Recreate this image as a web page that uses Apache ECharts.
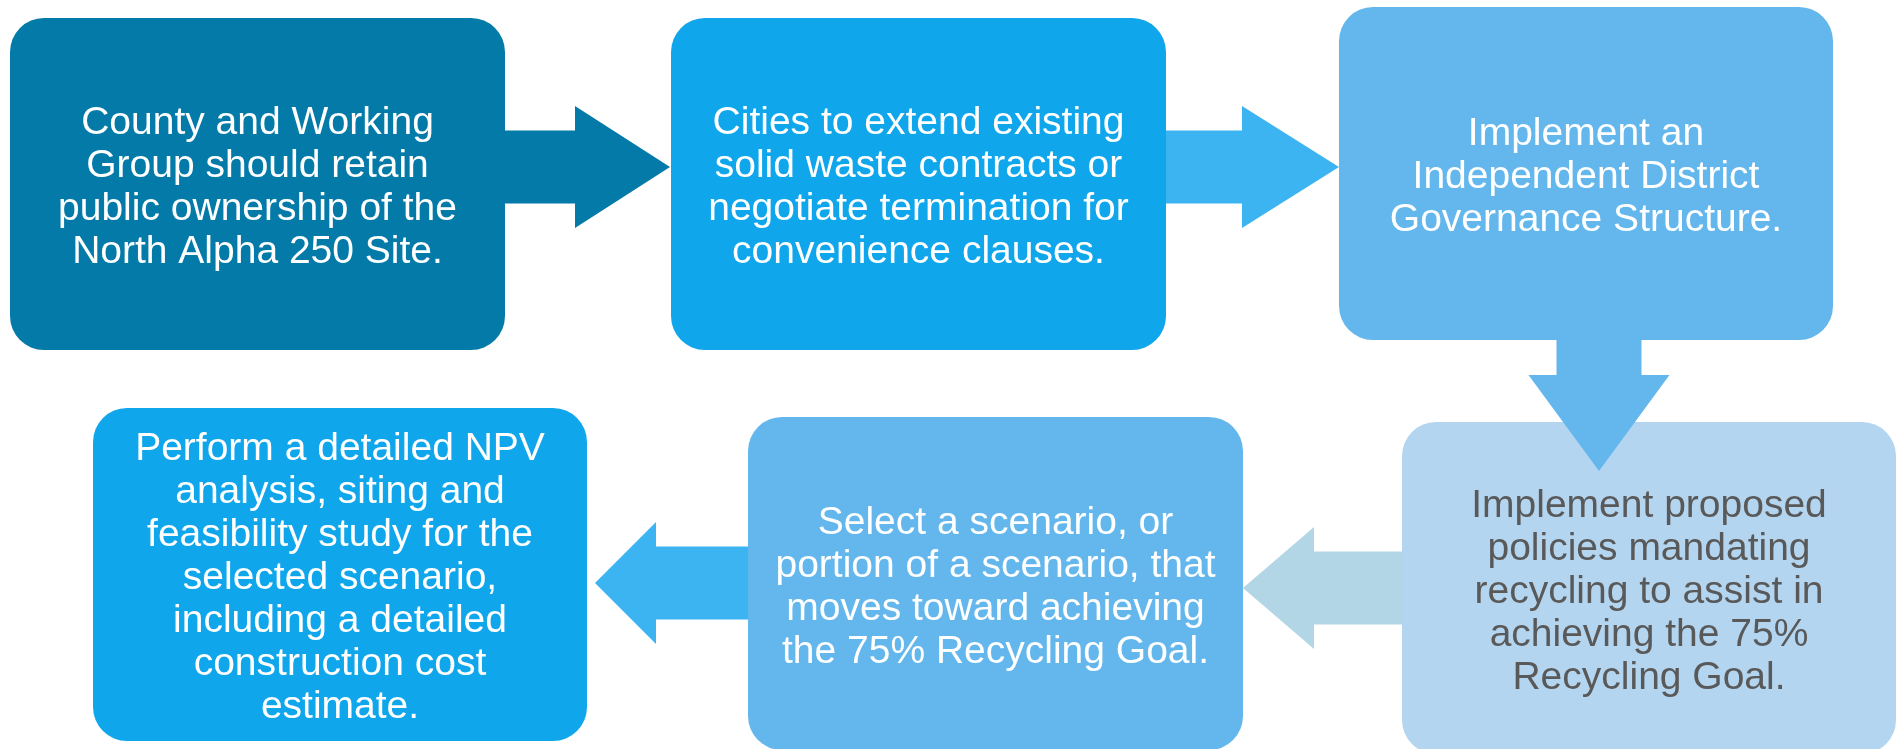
<!DOCTYPE html>
<html>
<head>
    <meta charset="utf-8">
    <script src="https://cdn.jsdelivr.net/npm/echarts@6/dist/echarts.min.js"></script>
    <style>
        html, body { margin: 0; padding: 0; background: #ffffff; }
        #flow { width: 1904px; height: 749px; }
    </style>
</head>
<body>
    <div id="flow"></div>
    <script>
        // step texts, in flow order
        const steps = [
            "County and Working\nGroup should retain\npublic ownership of the\nNorth Alpha 250 Site.",
            "Cities to extend existing\nsolid waste contracts or\nnegotiate termination for\nconvenience clauses.",
            "Implement an\nIndependent District\nGovernance Structure.",
            "Implement proposed\npolicies mandating\nrecycling to assist in\nachieving the 75%\nRecycling Goal.",
            "Select a scenario, or\nportion of a scenario, that\nmoves toward achieving\nthe 75% Recycling Goal.",
            "Perform a detailed NPV\nanalysis, siting and\nfeasibility study for the\nselected scenario,\nincluding a detailed\nconstruction cost\nestimate."
        ];
        // step n -> step n+1
        const links = [[0, 1], [1, 2], [2, 3], [3, 4], [4, 5]];

        // layout (axis units = page pixels): left, top, right, bottom
        const boxLayout = [
            [10, 18, 505, 350],
            [671, 18, 1166, 350],
            [1339, 7, 1833, 340],
            [1402, 422, 1896, 754],
            [748, 417, 1243, 750],
            [93, 408, 587, 741]
        ];
        const boxColors = ['#037AA8', '#10A6EC', '#64B7EC', '#B4D5F0', '#64B7EC', '#10A6EC'];
        const textColors = ['#ffffff', '#ffffff', '#ffffff', '#595959', '#ffffff', '#ffffff'];

        // arrow layout: tail x, tail y, tip x, tip y, shaft half width, head half width, head length
        const arrowLayout = [
            [505, 167, 670, 167, 36.5, 61, 95],
            [1166, 167, 1339, 167, 36.5, 61, 97],
            [1599, 340, 1599, 471, 42.5, 70.5, 96],
            [1402, 588, 1243, 588, 36.5, 61, 71],
            [748, 583, 595, 583, 36.5, 61, 61]
        ];
        const arrowColors = ['#037AA8', '#3DB4F2', '#64B7EC', '#B3D6E6', '#3DB4F2'];

        const chart = echarts.init(document.getElementById('flow'));

        const boxData = boxLayout.map(function (b, i) {
            return { value: [b[0], b[1], b[2], b[3]], name: steps[i] };
        });
        const arrowData = links.map(function (l, i) {
            return arrowLayout[i];
        });

        function renderBox(params, api) {
            const i = params.dataIndex;
            const p0 = api.coord([api.value(0), api.value(1)]);
            const p1 = api.coord([api.value(2), api.value(3)]);
            const x = Math.min(p0[0], p1[0]);
            const y = Math.min(p0[1], p1[1]);
            const w = Math.abs(p1[0] - p0[0]);
            const h = Math.abs(p1[1] - p0[1]);
            return {
                type: 'group',
                children: [{
                    type: 'rect',
                    shape: { x: x, y: y, width: w, height: h, r: 34 },
                    style: { fill: boxColors[i] }
                }, {
                    type: 'text',
                    x: x + w / 2,
                    y: y + h / 2 + 4,
                    style: {
                        text: steps[i],
                        fill: textColors[i],
                        font: '39px "Liberation Sans", Arial, sans-serif',
                        lineHeight: 43,
                        align: 'center',
                        verticalAlign: 'middle'
                    }
                }]
            };
        }

        function renderArrow(params, api) {
            const i = params.dataIndex;
            const a = arrowLayout[i];
            const tail = api.coord([a[0], a[1]]);
            const tip = api.coord([a[2], a[3]]);
            const dx = tip[0] - tail[0], dy = tip[1] - tail[1];
            const len = Math.sqrt(dx * dx + dy * dy);
            const ux = dx / len, uy = dy / len;
            const nx = -uy, ny = ux;
            const sw = a[4], hw = a[5], hl = a[6];
            const bx = tip[0] - ux * hl, by = tip[1] - uy * hl;
            const pts = [
                [tail[0] + nx * sw, tail[1] + ny * sw],
                [bx + nx * sw, by + ny * sw],
                [bx + nx * hw, by + ny * hw],
                [tip[0], tip[1]],
                [bx - nx * hw, by - ny * hw],
                [bx - nx * sw, by - ny * sw],
                [tail[0] - nx * sw, tail[1] - ny * sw]
            ];
            return {
                type: 'polygon',
                shape: { points: pts },
                style: { fill: arrowColors[i] }
            };
        }

        const option = {
            animation: false,
            backgroundColor: '#ffffff',
            grid: { left: 0, right: 0, top: 0, bottom: 0 },
            xAxis: { type: 'value', min: 0, max: 1904, show: false },
            yAxis: { type: 'value', min: 0, max: 749, inverse: true, show: false },
            series: [{
                type: 'custom',
                name: 'steps',
                renderItem: renderBox,
                data: boxData,
                clip: false,
                z: 1
            }, {
                type: 'custom',
                name: 'links',
                renderItem: renderArrow,
                data: arrowData,
                clip: false,
                z: 2
            }]
        };
        chart.setOption(option);
    </script>
</body>
</html>
